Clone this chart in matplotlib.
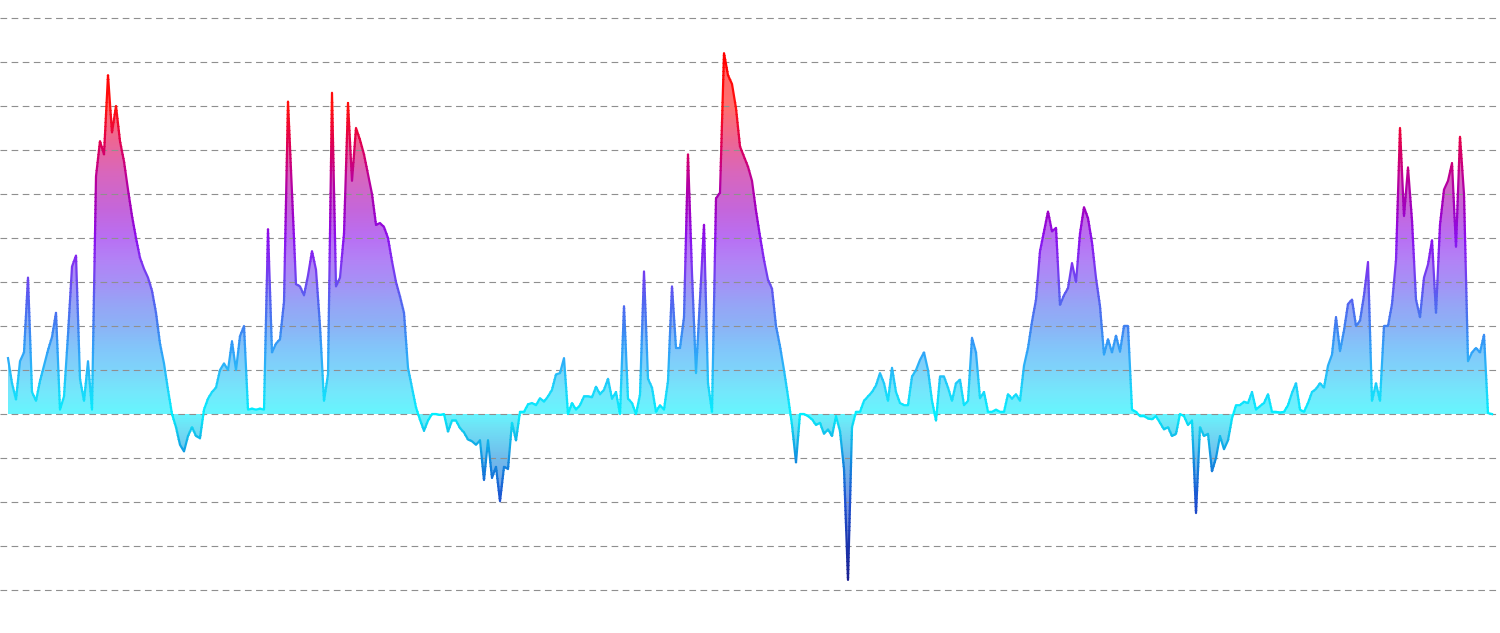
import numpy as np
import matplotlib
matplotlib.use("Agg")
import matplotlib.pyplot as plt
from matplotlib.colors import LinearSegmentedColormap, Normalize
from matplotlib.patches import Rectangle

# oscillator readings, one every step
values = [
    # first cycle
    1.27, 0.7, 0.33, 1.2, 1.4, 3.1, 0.5, 0.3, 0.75, 1.1,
    1.45, 1.75, 2.3, 0.1, 0.4, 1.8, 3.35, 3.6, 0.8, 0.3,
    1.2, 0.1, 5.4, 6.2, 5.9, 7.7, 6.4, 7.0, 6.2, 5.74,
    5.1, 4.5, 4.0, 3.55, 3.3, 3.1, 2.8, 2.3, 1.6, 1.15,
    0.55, 0.0, -0.3, -0.7, -0.85, -0.5, -0.3, -0.5, -0.55,
    # second cycle
    0.1, 0.35, 0.5, 0.6, 1.0, 1.15, 1.0, 1.65, 1.0, 1.77,
    2.0, 0.1, 0.12, 0.1, 0.12, 0.1, 4.2, 1.4, 1.6, 1.7,
    2.55, 7.1, 5.0, 2.95, 2.9, 2.7, 3.15, 3.7, 3.28, 2.0,
    0.3, 0.9, 7.3, 2.9, 3.1, 4.1, 7.07, 5.3, 6.5, 6.23,
    5.9, 5.45, 5.0, 4.3, 4.34, 4.25, 4.0, 3.47, 3.0, 2.67,
    2.3, 1.05, 0.6, 0.15, -0.13, -0.38, -0.15, 0.0,
    # bear phase
    0.0, -0.02, 0.0, -0.4, -0.15, -0.15, -0.32, -0.42, -0.58, -0.62,
    -0.7, -0.6, -1.5, -0.6, -1.45, -1.2, -1.98, -1.2, -1.25, -0.2,
    -0.6, 0.05, 0.05, 0.22, 0.25, 0.2, 0.36, 0.28, 0.4, 0.55,
    0.9, 0.93, 1.27, 0.0, 0.25, 0.1, 0.2, 0.4, 0.4, 0.38,
    0.62, 0.45, 0.55, 0.8, 0.35, 0.5, 0.0, 2.45, 0.35, 0.25,
    0.0, 0.44, 3.24, 0.8, 0.6, 0.05, 0.2, 0.1, 0.75, 2.9,
    1.5,
    # third cycle
    1.5, 2.2, 5.9, 3.2, 0.93, 2.6, 4.3, 0.7, 0.05, 4.9,
    5.03, 8.2, 7.7, 7.5, 6.95, 6.08, 5.85, 5.62, 5.3, 4.62,
    4.04, 3.5, 3.05, 2.85, 2.0, 1.54, 1.0, 0.4, -0.25, -1.1,
    0.0, 0.0, -0.05, -0.12, -0.25, -0.2, -0.45, -0.35, -0.5,
    # crash and recovery
    -0.05, -0.39, -1.25, -3.77, -0.3, 0.05, 0.05, 0.3, 0.4, 0.5,
    0.65, 0.93, 0.7, 0.3, 1.05, 0.5, 0.25, 0.2, 0.2, 0.85,
    1.0, 1.23, 1.4, 1.0, 0.3, -0.15, 0.85, 0.85, 0.6, 0.3,
    0.7, 0.78, 0.2, 0.3, 1.73, 1.4, 0.36, 0.5, 0.05, 0.05,
    0.1, 0.05, 0.05, 0.45, 0.35, 0.45, 0.3, 1.1, 1.5, 2.1,
    2.6, 3.7,
    # fourth cycle
    4.15, 4.6, 4.15, 4.23, 2.48, 2.7, 2.86, 3.43, 3.0, 4.1,
    4.7, 4.45, 3.9, 3.09, 2.45, 1.35, 1.7, 1.4, 1.78, 1.42,
    2.0, 2.0, 0.1, 0.05, -0.05, -0.05, -0.1, -0.12, -0.05, -0.2,
    -0.35, -0.3, -0.5, -0.45, 0.0, -0.05, -0.25, -0.15, -2.25,
    -0.3, -0.5, -0.45, -1.3, -1.0, -0.5, -0.8, -0.6, -0.1, 0.2,
    0.2, 0.28, 0.25, 0.5, 0.1, 0.18, 0.25, 0.45, 0.05, 0.05,
    0.03, 0.05, 0.2, 0.48, 0.7, 0.1,
    # latest cycle
    0.05, 0.25, 0.5, 0.57, 0.7, 0.6, 1.1, 1.35, 2.2, 1.43,
    1.9, 2.5, 2.6, 2.0, 2.12, 2.7, 3.45, 0.3, 0.7, 0.3,
    2.0, 2.0, 2.5, 3.5, 6.5, 4.5, 5.6, 4.4, 2.6, 2.2,
    3.1, 3.4, 3.95, 2.3, 4.3, 5.1, 5.3, 5.7, 3.8, 6.3,
    5.0, 1.2, 1.4, 1.5, 1.4, 1.8, 0.02, 0.0,
]

grid_levels = list(range(-4, 10))

# colour ramp from deep negative to the highest readings
color_stops = [
    (-3.8, "#1a1f8f"), (-2.0, "#1e50d0"), (-1.0, "#1090e0"), (-0.3, "#10d0f0"),
    (0.0, "#00f0ff"), (0.5, "#18d8fa"), (1.0, "#28b8f8"), (1.5, "#30a0f8"),
    (2.0, "#4080f0"), (2.5, "#5068f0"), (3.0, "#6a48f0"), (3.5, "#8030f0"),
    (4.0, "#8a10ee"), (4.7, "#a000c0"), (5.5, "#c00090"), (6.2, "#e00050"),
    (7.0, "#ff1010"), (8.2, "#ff0000"),
]

v = np.array(values)
x = np.arange(len(v))

vmin, vmax = color_stops[0][0], color_stops[-1][0]
norm = Normalize(vmin=vmin, vmax=vmax)
cmap = LinearSegmentedColormap.from_list(
    "osc", [(norm(s), c) for s, c in color_stops])

fig = plt.figure(figsize=(15, 6.33), dpi=100)
ax = fig.add_axes([0, 0, 1, 1])
x_lo, x_hi = -2, len(v) + 1
y_lo, y_hi = -4.977, 9.409
ax.set_xlim(x_lo, x_hi)
ax.set_ylim(y_lo, y_hi)
ax.axis("off")

# area: vertical gradient clipped to the shape under the curve
area = ax.fill_between(x, v, 0, color="none", lw=0)
grad = np.linspace(y_lo, y_hi, 600).reshape(-1, 1)
im = ax.imshow(grad, extent=[x_lo, x_hi, y_lo, y_hi], origin="lower",
               aspect="auto", cmap=cmap, norm=norm, alpha=0.6,
               interpolation="bilinear", zorder=1)
im.set_clip_path(area.get_paths()[0], transform=ax.transData)

# dashed horizontal grid
for lvl in grid_levels:
    ax.axhline(lvl, xmin=0, xmax=0.997, color="#8f8f8f", lw=0.8,
               linestyle=(0, (6, 4)), zorder=2)

# line coloured by height: draw it once per horizontal band
edges = np.linspace(y_lo, y_hi, 161)
for lo, hi in zip(edges[:-1], edges[1:]):
    pad = (hi - lo) * 0.1
    ln, = ax.plot(x, v, color=cmap(norm((lo + hi) / 2)), lw=1.6, zorder=4)
    ln.set_clip_path(Rectangle((x_lo, lo - pad), x_hi - x_lo, hi - lo + 2 * pad,
                               transform=ax.transData))

fig.savefig("out.png", dpi=100)
